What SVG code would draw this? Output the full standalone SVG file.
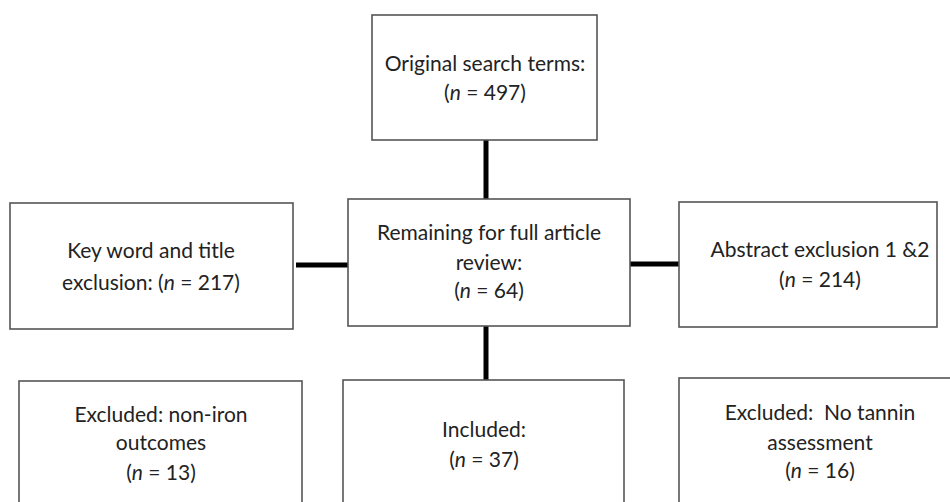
<svg xmlns="http://www.w3.org/2000/svg" width="950" height="502" viewBox="0 0 950 502">
<style>
.box{fill:#fff;stroke:#555;stroke-width:1.6}
.t{font-family:Lato,"Liberation Sans",sans-serif;font-size:21px;fill:#222;text-anchor:middle;white-space:pre}
.c{stroke:#000;stroke-width:5;fill:none}
</style>
<rect width="950" height="502" fill="#fff"/>
<g id="connectors">
<line class="c" x1="486" y1="140" x2="486" y2="199"/>
<line class="c" x1="296" y1="265" x2="348" y2="265"/>
<line class="c" x1="630" y1="264" x2="679" y2="264"/>
<line class="c" x1="486" y1="326" x2="486" y2="380"/>
</g>
<g id="original">
<rect class="box" x="372" y="15" width="225" height="125"/>
<text class="t" x="485" y="71">Original search terms:</text>
<text class="t" x="485" y="100">(<tspan font-style="italic">n</tspan> = 497)</text>
</g>
<g id="keyword">
<rect class="box" x="10" y="203" width="283" height="126"/>
<text class="t" x="151" y="258">Key word and title</text>
<text class="t" x="151" y="290">exclusion: (<tspan font-style="italic">n</tspan> = 217)</text>
</g>
<g id="remaining">
<rect class="box" x="348" y="199" width="282" height="127"/>
<text class="t" x="489" y="240">Remaining for full article</text>
<text class="t" x="489" y="270">review:</text>
<text class="t" x="489" y="298">(<tspan font-style="italic">n</tspan> = 64)</text>
</g>
<g id="abstract">
<rect class="box" x="679" y="202" width="258" height="125"/>
<text class="t" x="820" y="257">Abstract exclusion 1 &amp;2</text>
<text class="t" x="820" y="287">(<tspan font-style="italic">n</tspan> = 214)</text>
</g>
<g id="noniron">
<rect class="box" x="19" y="381" width="283" height="140"/>
<text class="t" x="161" y="422">Excluded: non-iron</text>
<text class="t" x="161" y="450">outcomes</text>
<text class="t" x="161" y="480">(<tspan font-style="italic">n</tspan> = 13)</text>
</g>
<g id="included">
<rect class="box" x="343" y="380" width="281" height="140"/>
<text class="t" x="484" y="437">Included:</text>
<text class="t" x="484" y="467">(<tspan font-style="italic">n</tspan> = 37)</text>
</g>
<g id="notannin">
<rect class="box" x="679" y="378" width="290" height="140"/>
<text class="t" x="820" y="420">Excluded:  No tannin</text>
<text class="t" x="820" y="450">assessment</text>
<text class="t" x="820" y="478">(<tspan font-style="italic">n</tspan> = 16)</text>
</g>
</svg>
